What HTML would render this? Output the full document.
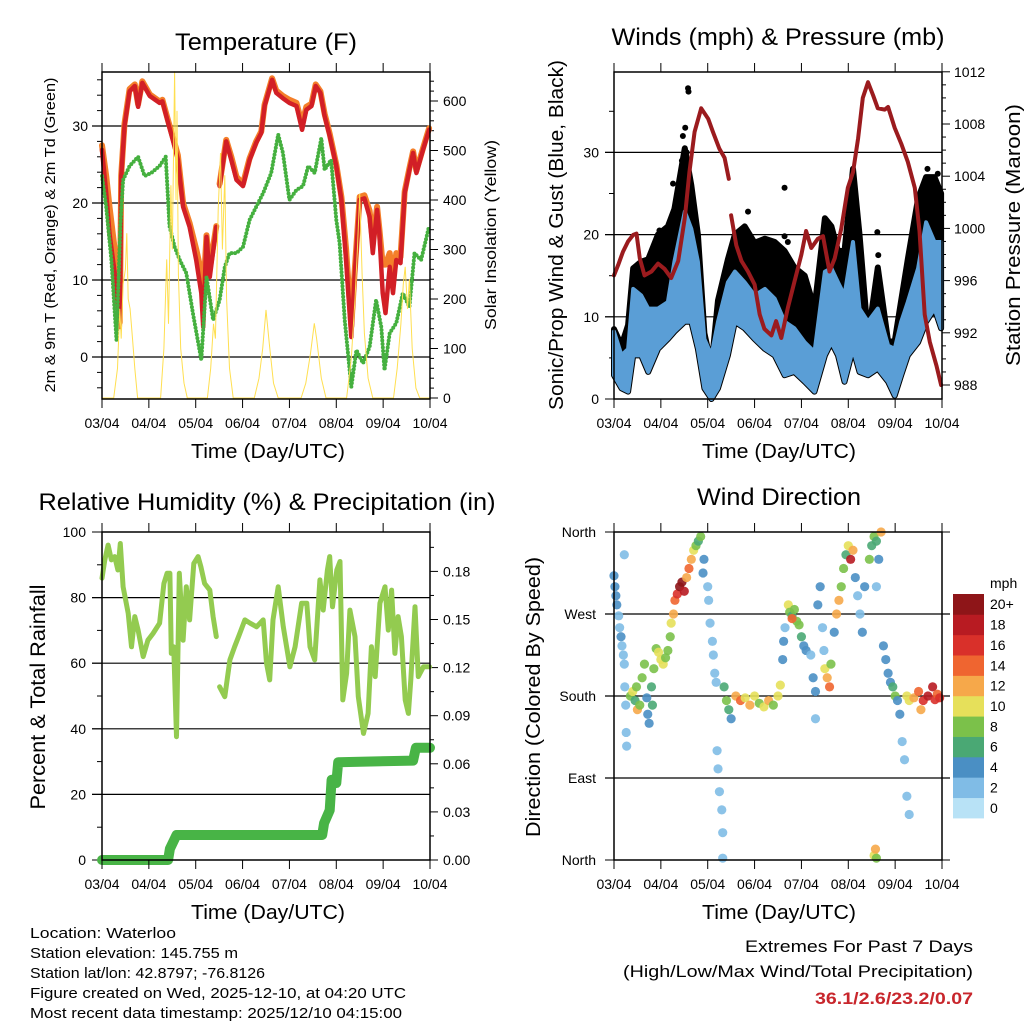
<!DOCTYPE html>
<html><head><meta charset="utf-8"><title>Weather station charts</title>
<style>
html,body{margin:0;padding:0;background:#fff;}
svg{display:block;font-family:"Liberation Sans",Arial,sans-serif;}
</style></head>
<body>
<svg id="c" width="1024" height="1024" viewBox="0 0 1024 1024" xmlns="http://www.w3.org/2000/svg">
<rect x="0" y="0" width="1024" height="1024" fill="#fff"/>
<text x="266" y="50" font-size="24" text-anchor="middle" textLength="182" lengthAdjust="spacingAndGlyphs">Temperature (F)</text>
<text x="778" y="45" font-size="24" text-anchor="middle" textLength="333" lengthAdjust="spacingAndGlyphs">Winds (mph) &amp; Pressure (mb)</text>
<text x="267" y="510" font-size="24" text-anchor="middle" textLength="457" lengthAdjust="spacingAndGlyphs">Relative Humidity (%) &amp; Precipitation (in)</text>
<text x="779" y="505" font-size="24" text-anchor="middle" textLength="164" lengthAdjust="spacingAndGlyphs">Wind Direction</text>
<text x="268" y="458" font-size="20" text-anchor="middle" textLength="154" lengthAdjust="spacingAndGlyphs">Time (Day/UTC)</text>
<text x="779" y="458" font-size="20" text-anchor="middle" textLength="154" lengthAdjust="spacingAndGlyphs">Time (Day/UTC)</text>
<text x="268" y="919" font-size="20" text-anchor="middle" textLength="154" lengthAdjust="spacingAndGlyphs">Time (Day/UTC)</text>
<text x="779" y="919" font-size="20" text-anchor="middle" textLength="154" lengthAdjust="spacingAndGlyphs">Time (Day/UTC)</text>
<text transform="translate(55,235) rotate(-90)" font-size="15" text-anchor="middle" textLength="315" lengthAdjust="spacingAndGlyphs">2m &amp; 9m T (Red, Orange) &amp; 2m Td (Green)</text>
<text transform="translate(496,235) rotate(-90)" font-size="16" text-anchor="middle" textLength="190" lengthAdjust="spacingAndGlyphs">Solar Insolation (Yellow)</text>
<text transform="translate(563,235) rotate(-90)" font-size="20" text-anchor="middle" textLength="350" lengthAdjust="spacingAndGlyphs">Sonic/Prop Wind &amp; Gust (Blue, Black)</text>
<text transform="translate(1020,235) rotate(-90)" font-size="20" text-anchor="middle" textLength="262" lengthAdjust="spacingAndGlyphs">Station Pressure (Maroon)</text>
<text transform="translate(45,697) rotate(-90)" font-size="21" text-anchor="middle" textLength="225" lengthAdjust="spacingAndGlyphs">Percent &amp; Total Rainfall</text>
<text transform="translate(540,697) rotate(-90)" font-size="20" text-anchor="middle" textLength="280" lengthAdjust="spacingAndGlyphs">Direction (Colored By Speed)</text>
<g font-size="15">
<text x="30" y="938" textLength="146" lengthAdjust="spacingAndGlyphs">Location: Waterloo</text>
<text x="30" y="958" textLength="208" lengthAdjust="spacingAndGlyphs">Station elevation: 145.755 m</text>
<text x="30" y="978" textLength="235" lengthAdjust="spacingAndGlyphs">Station lat/lon: 42.8797; -76.8126</text>
<text x="30" y="998" textLength="376" lengthAdjust="spacingAndGlyphs">Figure created on Wed, 2025-12-10, at 04:20 UTC</text>
<text x="30" y="1018" textLength="372" lengthAdjust="spacingAndGlyphs">Most recent data timestamp: 2025/12/10 04:15:00</text>
</g>
<text x="973" y="952" font-size="17" text-anchor="end" textLength="228" lengthAdjust="spacingAndGlyphs">Extremes For Past 7 Days</text>
<text x="973" y="977" font-size="17" text-anchor="end" textLength="350" lengthAdjust="spacingAndGlyphs">(High/Low/Max Wind/Total Precipitation)</text>
<text x="973" y="1004" font-size="17" font-weight="bold" fill="#c8262c" text-anchor="end" textLength="158" lengthAdjust="spacingAndGlyphs">36.1/2.6/23.2/0.07</text>
</svg>
<script>
const dayLabels = ["03/04","04/04","05/04","06/04","07/04","08/04","09/04","10/04"];
const tTimes = [0,.09,.16,.27,.38,.41,.48,.59,.70,.77,.86,1.02,1.23,1.29,1.41,1.51,1.62,1.73,1.87,2.01,2.12,2.16,2.23,2.30,2.44,2.47,2.51,2.65,2.76,2.87,3.01,3.15,3.29,3.40,3.47,3.63,3.72,3.86,4.0,4.15,4.27,4.36,4.47,4.56,4.66,4.75,4.86,5.0,5.11,5.21,5.32,5.39,5.5,5.6,5.71,5.78,5.87,5.92,5.99,6.05,6.14,6.21,6.28,6.37,6.46,6.56,6.64,6.71,6.85,6.98];
const temp2m = [26.9,21.3,16,10.9,3.9,23.4,30,34.5,35.2,32.5,35.6,33.9,33,33.2,30.4,28.2,25.6,19.5,16.9,12.6,8.3,3.9,15.6,10.4,16.9,null,22.2,28,25.6,23,22.2,25.6,27.8,29.1,32.6,36,34.3,33.6,33,32.6,29.5,32.1,32.6,35.2,34.3,31.3,28.7,24.8,20.4,12.6,2.6,10.4,20.4,20.6,18.2,13.5,19.1,16,8.3,5.7,11.7,8.3,12.6,12.2,21.3,24.3,26.5,23.9,26.9,29.5];
const temp9m = [27.5,23.5,19.5,14,4.5,23.6,30.3,34.8,35.4,32.8,35.8,34.1,33.2,33.4,30.7,28.6,26.2,20,17.4,14,11,8,15.8,11.5,17,null,22.5,28.2,26,23.4,22.5,25.8,28,29.3,32.8,36.2,34.6,33.9,33.4,33,30.2,32.5,32.9,35.4,34.5,31.6,29,25,20.8,14,4,11,20.8,21,19,15,19.5,16.6,12,12,13.5,10,13.5,13,21.5,24.5,26.7,24.2,27.1,29.7];
const dewTimes = [0,.09,.2,.31,.39,.45,.59,.77,.91,1.05,1.23,1.36,1.44,1.55,1.66,1.8,1.94,2.12,2.23,2.37,2.51,2.62,2.72,2.87,3.01,3.15,3.29,3.44,3.61,3.76,3.86,4.0,4.15,4.29,4.4,4.54,4.68,4.75,4.89,5.0,5.07,5.18,5.32,5.43,5.57,5.71,5.85,5.96,6.03,6.14,6.28,6.42,6.56,6.67,6.81,6.98];
const dew2m = [23.5,19.5,12.6,2.2,17,23,24.8,26,23.5,23.9,24.8,26,17,14.3,12.6,10.9,5.7,-0.4,10.4,4.8,7.4,11.7,13.5,13.5,14.3,17.8,19.5,21.3,23.9,28.9,26.5,20.4,21.7,22.2,24.8,23.9,28.4,24.3,25.6,17.8,14.8,4.8,-3.9,0.9,-0.8,1.3,7.4,3.9,-1.7,3.1,4.4,8.3,6.5,13.5,12.6,17];
const solarTimes = [0,.25,.33,.38,.41,.45,.5,.53,.56,.6,.65,.7,.76,1.25,1.32,1.38,1.42,1.47,1.5,1.55,1.58,1.6,1.63,1.68,1.75,1.82,2.25,2.32,2.38,2.42,2.48,2.53,2.57,2.62,2.66,2.72,2.8,3.25,3.35,3.43,3.5,3.57,3.66,3.76,4.25,4.35,4.45,4.53,4.58,4.68,4.78,5.22,5.32,5.4,5.45,5.5,5.55,5.6,5.68,5.78,6.22,6.3,6.38,6.43,6.47,6.52,6.56,6.62,6.7,6.78,7];
const solarVals = [0,0,60,180,120,230,260,333,200,180,120,60,0,0,100,280,150,430,300,660,400,580,250,100,30,0,0,60,150,120,380,495,300,450,200,60,0,0,40,100,178,110,30,0,0,30,90,151,120,40,0,0,80,200,300,413,250,130,40,0,0,60,150,230,265,180,240,100,20,0,0];

const windTimes = [0,.16,.30,.41,.58,.73,.94,1.15,1.29,1.51,1.65,1.79,1.93,2.08,2.22,2.43,2.58,2.79,3.0,3.22,3.43,3.64,3.85,4.07,4.28,4.5,4.64,4.78,4.92,5.1,5.24,5.42,5.63,5.85,5.99,6.13,6.27,6.49,6.66,6.84,6.98];
const windLow = [2.9,1.3,0.9,5.3,5.3,3.3,6.1,7.3,8.2,9.4,9.4,6.1,1.3,0,1.3,5.3,9.4,8.6,7.3,6.1,5.3,2.9,3.3,2.1,0.9,5.3,6.9,5.3,2.1,6.1,3.3,2.9,3.7,2.1,0.4,2.9,5.3,6.9,9.4,11,8.6];
const windHigh = [8.2,5.3,6.1,13.4,12.6,11,11,11.8,16.7,22.8,20.7,16.7,7.3,5.3,9.4,14.2,15.5,14.2,12.6,13.4,12.2,9.4,8.6,6.9,5.7,15.5,15.9,14.2,12.6,19.1,11,9.4,11,6.5,6.1,9.4,11.8,15.9,21.5,19.1,19.1];
const gustHigh = [8.5,6.5,9,15.9,16.7,17,20,21,23.1,30.5,26,20,8,4,12,17,20,21,19,19.5,19.1,18,16,15,11,22,21,18,18,28,20,7.5,16,7,7,12,17,24.4,27,27,25];
const gustOutTimes = [1.58,1.59,1.47,1.26,1.29,3.64,2.86,5.62,5.1,6.69,6.69,6.91,0.97,1.69,3.64,3.71,5.64,1.52,1.55,1.45];
const gustOutVals = [37.8,37.4,32,26.2,23.1,25.7,22.8,20.3,27.6,28,26.6,27.4,20.5,21.5,19.8,19.1,17.5,33,30,29];
const presTimes = [0,.09,.19,.3,.41,.48,.55,.65,.8,.94,1.08,1.22,1.37,1.51,1.61,1.72,1.86,2.01,2.11,2.25,2.36,2.45,2.48,2.5,2.61,2.72,2.86,3.0,3.11,3.21,3.36,3.46,3.57,3.71,3.85,4.0,4.1,4.21,4.35,4.46,4.6,4.71,4.85,4.99,5.1,5.21,5.31,5.42,5.53,5.63,5.78,5.85,5.99,6.13,6.27,6.42,6.52,6.63,6.74,6.88,6.98];
const presVals = [996.4,997.2,998.2,999,999.5,999.6,997.7,996.4,996.7,997.3,996.9,996.2,997.5,1000.8,1004.3,1007.4,1009.2,1008.4,1007.4,1006.1,1005.4,1003.8,null,1001,998.7,997.5,996.7,995.7,993.4,992.3,991.8,992.9,991.6,993.9,995.9,998,999.8,998.5,999.2,999.4,996.7,997.7,1000,1003.1,1004.3,1006.9,1010,1011.2,1010.2,1009.2,1009.1,1009.3,1007.7,1006.5,1005.1,1003.1,999.8,993.4,991.3,989.5,988];

const rhTimes = [0,.06,.13,.2,.27,.34,.39,.45,.56,.63,.7,.77,.88,.98,1.09,1.23,1.32,1.39,1.45,1.48,1.53,1.59,1.65,1.73,1.8,1.87,1.96,2.05,2.11,2.19,2.3,2.37,2.44,2.47,2.51,2.62,2.73,2.83,2.94,3.05,3.16,3.3,3.44,3.51,3.58,3.65,3.76,3.87,4.01,4.12,4.26,4.37,4.44,4.54,4.65,4.72,4.81,4.86,4.92,5.01,5.08,5.14,5.22,5.29,5.4,5.47,5.58,5.68,5.75,5.83,5.93,6.04,6.11,6.18,6.25,6.32,6.39,6.47,6.54,6.59,6.68,6.75,6.86,6.99];
const rhVals = [85.9,91.5,96,91.5,92.5,88.4,96.5,83.3,75.2,65,74.2,70.1,62,67,69.1,72.2,84.3,87.4,87.4,63,65,37.6,87.4,67,83.3,73.2,90.4,92.5,89.4,84.3,82.3,74.2,68.1,null,52.8,49.8,61,65,69.1,73.2,72.2,71.1,73.2,60,54.9,73.2,83.3,71.1,58.9,65,78.3,78.3,65,61,85.4,76.2,88.4,92.5,77.2,88.4,91,48.8,56.9,76.2,68.1,49.8,38.6,44.7,65,55.9,78.3,83.3,70.1,82.3,63,74.2,68.1,48.8,44.7,54.9,77.2,55.9,58.9,58.9];
const precipTimes = [0,1.41,1.45,1.59,4.7,4.74,4.86,4.9,5.0,5.04,6.64,6.7,7];
const precipVals = [0,0,0.007,0.0156,0.0156,0.023,0.031,0.05,0.048,0.061,0.062,0.07,0.07];

const dirTimes = [0,.02,.04,.06,.1,.12,.15,.17,.2,.22,.23,.25,.26,.27,.22,
 .35,.4,.45,.48,.5,.55,.6,.65,.7,.72,.75,.8,.85,.82,
 .9,.95,1.0,1.05,1.1,1.15,1.2,
 1.22,1.27,1.3,1.35,1.4,1.45,1.5,1.55,1.6,1.65,1.7,1.75,1.8,1.85,1.9,1.92,
 2.0,2.02,2.05,2.1,2.12,2.15,2.18,2.2,2.22,2.25,2.3,2.32,2.32,
 2.35,2.4,2.45,2.5,2.6,2.7,2.8,2.9,3.0,3.1,3.2,3.3,3.4,3.5,3.55,
 3.6,3.62,3.65,
 3.72,3.75,3.8,3.85,3.9,3.95,4.0,4.05,4.1,3.8,
 4.2,4.25,4.3,4.3,4.35,4.4,4.45,4.48,4.5,4.55,4.6,4.63,
 4.7,4.75,4.8,4.85,4.9,4.95,5.0,5.05,5.1,5.15,5.2,5.25,5.3,5.35,
 5.45,5.5,5.55,5.6,5.65,5.7,5.6,
 5.55,5.6,5.58,
 5.75,5.8,5.85,5.9,5.95,6.0,6.05,6.1,6.15,6.2,6.25,6.3,
 6.25,6.3,6.4,6.5,6.6,6.7,6.8,6.85,6.9,6.95,6.55];
const dirDeg = [312,300,290,280,268,255,245,235,225,215,190,170,140,125,335,
 180,185,175,190,165,170,200,215,178,160,150,190,210,170,
 232,228,220,215,222,230,245,
 260,270,285,292,300,305,295,310,320,330,340,345,350,355,315,330,
 300,285,260,240,225,205,195,120,100,75,55,30,2,
 190,175,165,155,180,175,178,170,180,172,168,175,170,180,192,
 220,240,255,
 280,272,268,275,262,258,245,235,230,265,
 225,200,185,155,280,300,255,230,210,200,190,215,
 250,270,285,300,320,335,345,330,340,310,290,270,250,300,
 330,345,355,350,330,360,300,
 5,2,12,
 235,220,205,195,190,180,175,160,130,110,70,50,
 180,175,178,185,175,180,190,176,182,178,165];
const dirSpeed = [4,4,4,3,2,2,4,2,2,2,2,1,2,1,1,
 8,10,6,7,12,8,7,8,4,4,3,6,7,5,
 8,10,10,9,8,8,7,
 10,12,14,16,20,20,18,12,14,12,10,8,6,8,4,3,
 1,2,2,1,2,2,2,1,1,1,1,1,1,
 6,8,6,4,12,14,10,12,10,8,10,12,8,10,9,
 4,4,2,
 10,8,6,8,7,8,6,4,3,14,
 2,4,4,2,4,4,2,2,10,12,14,8,
 4,12,12,8,8,6,10,18,12,4,2,2,4,3,
 8,6,8,6,4,12,2,
 10,8,12,
 4,4,4,3,6,8,4,3,2,2,2,1,
 10,10,12,14,16,18,18,16,14,16,12];
const speedColors = ["#b8e2f6","#80bce6","#4a8fc4","#4aa874","#7bc14a","#e6e05a","#f6a84a","#ef6530","#d9302a","#b81b22","#8e1518"];
const speedLabels = ["0","2","4","6","8","10","12","14","16","18","20+"];

const NS = "http://www.w3.org/2000/svg";
const svg = document.getElementById("c");
function mk(tag, attrs, parent) {
  const el = document.createElementNS(NS, tag);
  for (const k in attrs) el.setAttribute(k, attrs[k]);
  (parent || svg).appendChild(el);
  return el;
}
function pathFrom(xs, ys, fx, fy) {
  let d = "", pen = false;
  for (let i = 0; i < Math.min(xs.length, ys.length); i++) {
    if (ys[i] === null) { pen = false; continue; }
    d += (pen ? "L" : "M") + fx(xs[i]).toFixed(1) + "," + fy(ys[i]).toFixed(1);
    pen = true;
  }
  return d;
}
const DAY = 328 / 7;
const xL = d => 102 + d * DAY;
const xR = d => 614 + d * DAY;
const yTemp = v => 357 - v * 7.7;
const ySolar = v => 398 - v * 0.495;
const yWind = v => 399 - v * 8.22;
const yPres = v => 385 - (v - 988) * 13.05;
const yRH = v => 860 - v * 3.28;
const yPrecip = v => 860 - v / 0.03 * 48.1;
const yDir = v => 860 - v * 328 / 360;

function xAxis(fx, top, bottom, name) {
  const g = mk("g", {});
  
  
  for (let i = 0; i < dayLabels.length; i++) {
    const x = fx(i);
    const t1 = mk("line", {x1: x, x2: x, y1: top - 9, y2: top, stroke: "#000", "stroke-width": 1}, g);
    
    
    const t2 = mk("line", {x1: x, x2: x, y1: bottom, y2: bottom + 9, stroke: "#000", "stroke-width": 1}, g);
    
    
    const lb = mk("text", {x: x, y: bottom + 29, "font-size": 14, "text-anchor": "middle"}, g);
    lb.textContent = dayLabels[i];
    
    
  }
}
function box(x1, y1, x2, y2, name) {
  const r = mk("rect", {x: x1, y: y1, width: x2 - x1, height: y2 - y1, fill: "none", stroke: "#000", "stroke-width": 1.5});
  
  
}
function grid(x1, x2, y, name) {
  const l = mk("line", {x1: x1, x2: x2, y1: y, y2: y, stroke: "#000", "stroke-width": 1.2});
  
  
}
function tick(x1, x2, y, name) {
  const l = mk("line", {x1: x1, x2: x2, y1: y, y2: y, stroke: "#000", "stroke-width": 1});
  
  
}
function label(x, y, txt, anchor, name) {
  const t = mk("text", {x: x, y: y + 5, "font-size": 14, "text-anchor": anchor});
  t.textContent = txt;
  
  
}

// panel 1
for (let v = -4; v <= 36; v += 2) if (v % 10 !== 0) tick(97, 102, yTemp(v), 'temp-minor-tick');
[0, 10, 20, 30].forEach(v => { grid(92, 430, yTemp(v), 'temp-gridline'); label(88, yTemp(v), String(v), "end", 'temp-y-tick-label'); });
for (let v = 0; v <= 650; v += 20) if (v % 100 !== 0) tick(430, 434, ySolar(v), 'solar-minor-tick');
for (let v = 0; v <= 600; v += 100) { tick(430, 438, ySolar(v), 'solar-major-tick'); label(443, ySolar(v), String(v), "start", 'solar-y-tick-label'); }
{
  const o = mk("path", {d: pathFrom(tTimes, temp9m, xL, yTemp), fill: "none", stroke: "#f47f2a", "stroke-width": 6, "stroke-linejoin": "round", "stroke-linecap": "round"});
  
  
  const r = mk("path", {d: pathFrom(tTimes, temp2m, xL, yTemp), fill: "none", stroke: "#d21f26", "stroke-width": 4.5, "stroke-linejoin": "round", "stroke-linecap": "round"});
  
  
  const g = mk("path", {d: pathFrom(dewTimes, dew2m, xL, yTemp), fill: "none", stroke: "#45b03f", "stroke-width": 4, "stroke-dasharray": "0 3.5", "stroke-linecap": "round"});
  
  
  const s = mk("path", {d: pathFrom(solarTimes, solarVals, xL, ySolar), fill: "none", stroke: "#ffdf50", "stroke-width": 1});
  
  
}
box(102, 72, 430, 399, 'temp-plot-frame');
xAxis(xL, 72, 399, 'temp-x-axis');

// panel 2
for (let v = 5; v <= 35; v += 10) tick(609, 614, yWind(v), 'wind-minor-tick');
[10, 20, 30].forEach(v => grid(605, 942, yWind(v), 'wind-gridline'));
[0, 10, 20, 30].forEach(v => { tick(605, 614, yWind(v), 'wind-major-tick'); label(599, yWind(v), String(v), "end", 'wind-y-tick-label'); });
for (let p = 988; p <= 1012; p++) if (p % 4 !== 0) tick(942, 946, yPres(p), 'pressure-minor-tick');
for (let p = 988; p <= 1012; p += 4) { tick(942, 950, yPres(p), 'pressure-major-tick'); label(954, yPres(p), String(p), "start", 'pressure-y-tick-label'); }
{
  let d = pathFrom(windTimes, gustHigh, xR, yWind);
  for (let i = windTimes.length - 1; i >= 0; i--) d += "L" + xR(windTimes[i]).toFixed(1) + "," + yWind(windLow[i]).toFixed(1);
  const gb = mk("path", {d: d + "Z", fill: "#000", stroke: "#000", "stroke-width": 6, "stroke-linejoin": "round"});
  
  
  for (let i = 0; i < gustOutTimes.length; i++) {
    const c = mk("circle", {cx: xR(gustOutTimes[i]), cy: yWind(gustOutVals[i]), r: 3, fill: "#000"});
    
    
  }
  let d2 = pathFrom(windTimes, windHigh, xR, yWind);
  for (let i = windTimes.length - 1; i >= 0; i--) d2 += "L" + xR(windTimes[i]).toFixed(1) + "," + yWind(windLow[i]).toFixed(1);
  const wb = mk("path", {d: d2 + "Z", fill: "#5a9ed6", stroke: "#5a9ed6", "stroke-width": 4, "stroke-linejoin": "round"});
  
  
  const pl = mk("path", {d: pathFrom(presTimes, presVals, xR, yPres), fill: "none", stroke: "#9b1b1e", "stroke-width": 4, "stroke-linejoin": "round", "stroke-linecap": "round"});
  
  
}
box(614, 72, 942, 399, 'winds-plot-frame');
xAxis(xR, 72, 399, 'winds-x-axis');

// panel 3
for (let v = 10; v <= 90; v += 20) tick(97, 102, yRH(v), 'rh-minor-tick');
[20, 40, 60, 80].forEach(v => grid(92, 430, yRH(v), 'rh-gridline'));
[0, 20, 40, 60, 80, 100].forEach(v => { tick(92, 102, yRH(v), 'rh-major-tick'); label(86, yRH(v), String(v), "end", 'rh-y-tick-label'); });
for (let i = 0; i <= 13; i++) if (i % 2 === 1) tick(430, 434, yPrecip(i * 0.015), 'precip-minor-tick');
for (let i = 0; i <= 6; i++) { tick(430, 438, yPrecip(i * 0.03), 'precip-major-tick'); label(443, yPrecip(i * 0.03), (i * 0.03).toFixed(2), "start", 'precip-y-tick-label'); }
{
  const rh = mk("path", {d: pathFrom(rhTimes, rhVals, xL, yRH), fill: "none", stroke: "#93cb50", "stroke-width": 5, "stroke-linejoin": "round", "stroke-linecap": "round"});
  
  
  const pr = mk("path", {d: pathFrom(precipTimes, precipVals, xL, yPrecip), fill: "none", stroke: "#48b446", "stroke-width": 10, "stroke-linejoin": "round", "stroke-linecap": "round"});
  
  
}
box(102, 532, 430, 860, 'rh-plot-frame');
xAxis(xL, 532, 860, 'rh-x-axis');

// panel 4
const dirNames = ["North", "East", "South", "West", "North"];
for (let i = 0; i <= 4; i++) {
  const y = yDir(i * 90);
  if (i > 0 && i < 4) grid(605, 950, y, 'direction-gridline');
  else tick(605, 950, y, 'direction-edge-line');
  label(596, y, dirNames[i], "end", 'direction-y-tick-label');
}
for (let i = 0; i < Math.min(dirTimes.length, dirDeg.length, dirSpeed.length); i++) {
  const ci = Math.min(10, Math.round(dirSpeed[i] / 2));
  const c = mk("circle", {cx: xR(dirTimes[i]), cy: yDir(dirDeg[i]), r: 4.6, fill: speedColors[ci], "fill-opacity": 0.9});
  
  
}
box(614, 532, 942, 860, 'direction-plot-frame');
xAxis(xR, 532, 860, 'direction-x-axis');

{
  const mt = mk("text", {x: 990, y: 588, "font-size": 14});
  mt.textContent = "mph";
  
  
  const h = 224 / 11;
  for (let i = 0; i < 11; i++) {
    const y = 818 - (i + 1) * h;
    const r = mk("rect", {x: 953, y: y, width: 31, height: h + 0.4, fill: speedColors[i]});
    
    
    const t = mk("text", {x: 990, y: y + h / 2 + 5, "font-size": 14});
    t.textContent = speedLabels[i];
    
    
  }
}
</script>
</body></html>
